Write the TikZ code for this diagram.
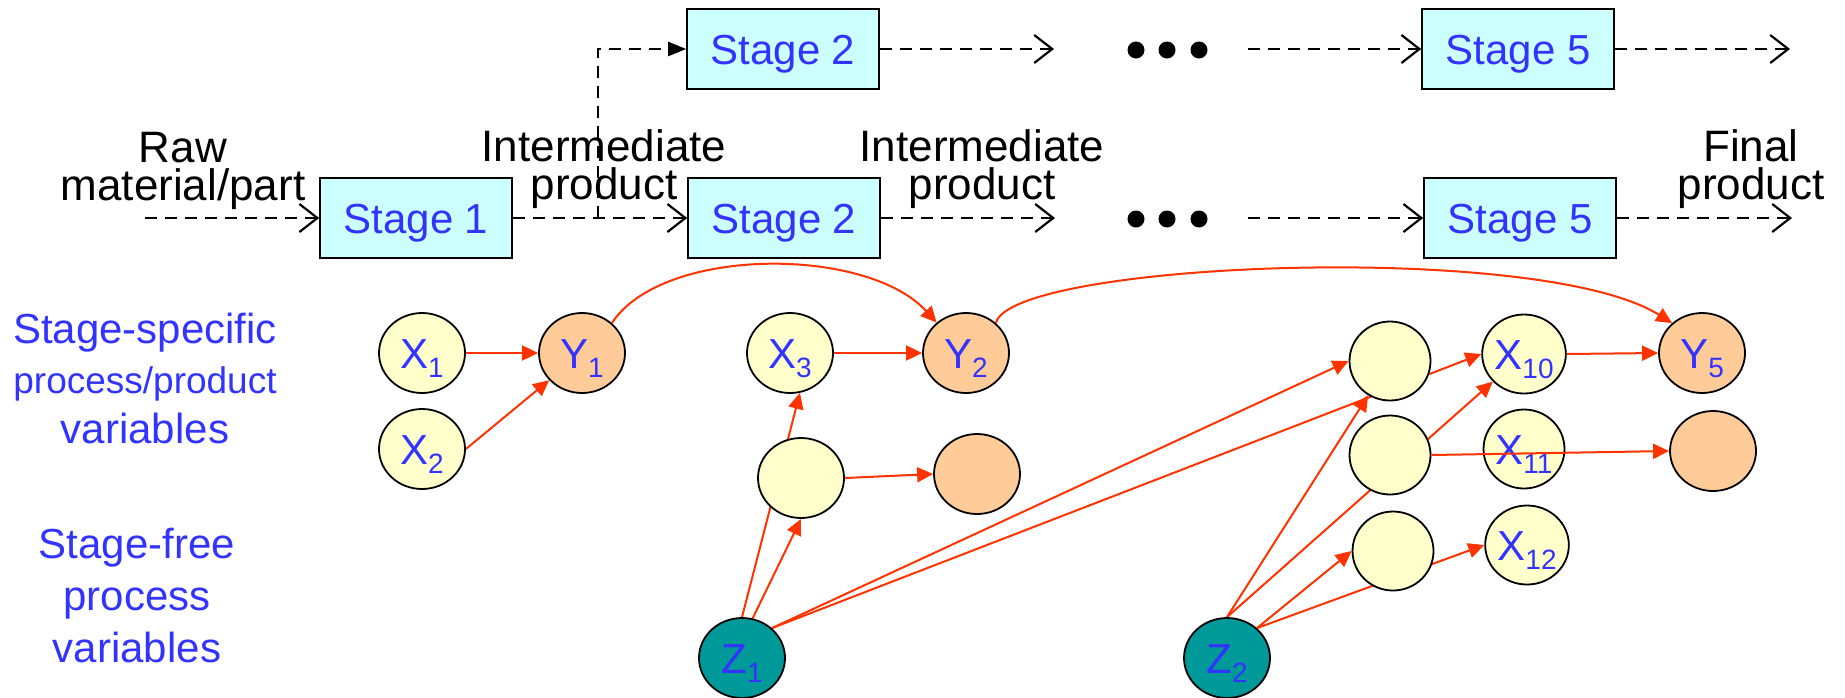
\documentclass[tikz,border=0pt]{standalone}
\usepackage{fontspec}
\setmainfont{Liberation Sans}
\usetikzlibrary{shapes.geometric,arrows.meta,backgrounds}

\definecolor{edgered}{RGB}{255,51,0}
\definecolor{labelblue}{RGB}{51,51,255}
\definecolor{boxcyan}{RGB}{204,255,255}
\definecolor{varyellow}{RGB}{255,255,204}
\definecolor{varorange}{RGB}{255,204,153}
\definecolor{varteal}{RGB}{0,153,153}

% lowered index after a variable letter
\newcommand{\vsub}[1]{\raisebox{-4.5pt}{\fontsize{14}{14}\selectfont #1}}

\begin{document}
\begin{tikzpicture}[x=0.5pt,y=0.5pt,
  stagebox/.style={draw=black,line width=0.8pt,fill=boxcyan,minimum width=96pt,
    minimum height=40pt,inner sep=0pt,text=labelblue,
    font=\fontsize{21}{25}\selectfont,text height=15.5pt,text depth=0pt},
  var/.style={ellipse,draw=black,line width=0.9pt,minimum width=43pt,
    minimum height=40pt,inner sep=0pt,text=labelblue,
    font=\fontsize{21}{25}\selectfont,text height=15pt,text depth=0pt},
  small/.style={minimum width=40.5pt,minimum height=39.5pt},
  xvar/.style={var,fill=varyellow},
  yvar/.style={var,fill=varorange},
  zvar/.style={var,fill=varteal},
  flowline/.style={draw=black,line width=1.1pt,dash pattern=on 6pt off 4pt},
  flow/.style={flowline,-{Straight Barb[length=9pt,width=14pt,line width=1.1pt]}},
  dep/.style={draw=edgered,line width=1pt,-{Triangle[length=8pt,width=7.5pt]}},
  caption/.style={font=\fontsize{22}{19}\selectfont,align=center,anchor=base,inner sep=0pt},
  side/.style={text=labelblue,align=center,inner sep=0pt,anchor=base}
]
\useasboundingbox (0,0) rectangle (1845,-697);

% ---------- production line ----------
\node[stagebox] (s1)  at (416,-218)  {Stage 1};
\node[stagebox] (s2a) at (783,-49)   {Stage 2};
\node[stagebox] (s2b) at (784,-218)  {Stage 2};
\node[stagebox] (s5a) at (1518,-49)  {Stage 5};
\node[stagebox] (s5b) at (1520,-218) {Stage 5};

\coordinate (rawin) at (145,-218);
\coordinate (br)    at (598,-218);
\coordinate (outA2) at (1054,-49);
\coordinate (outB2) at (1055,-218);
\coordinate (inA5)  at (1248,-49);
\coordinate (inB5)  at (1248,-218);
\coordinate (outA5) at (1790,-49);
\coordinate (outB5) at (1792,-218);

\foreach \yy in {-50,-219}
  \foreach \xx in {1136,1167,1199}
    \fill[black] (\xx,\yy) circle (8.5);

\draw[flow] (rawin) -- (s1.west);
\draw[flow] (s1.east) -- (s2b.west);
\draw[flowline,-{Triangle[length=9pt,width=7pt]}] (br) |- (s2a.west);
\draw[flow] (s2a.east) -- (outA2);
\draw[flow] (s2b.east) -- (outB2);
\draw[flow] (inA5) -- (s5a.west);
\draw[flow] (inB5) -- (s5b.west);
\draw[flow] (s5a.east) -- (outA5);
\draw[flow] (s5b.east) -- (outB5);

% two-line captions, placed by the baseline of their second line
\node[caption] (lraw)    at (183,-200)  {Raw\\material/part};
\node[caption] (linter)  at (604,-199)  {Intermediate\\product};
\node[caption] (linter2) at (982,-199)  {Intermediate\\product};
\node[caption] (lfinal)  at (1751,-199) {Final\\product};

% ---------- row labels (placed by their last line) ----------
\node[side,font=\fontsize{21}{25}\selectfont] (lspec) at (145,-443)
  {Stage-specific\\{\fontsize{18.5}{25}\selectfont process/product}\\variables};
\node[side,font=\fontsize{21}{26}\selectfont] (lfree) at (137,-662)
  {Stage-free\\process\\variables};

% ---------- variables ----------
\node[xvar] (X1) at (422,-353) {X\vsub{1}};
\node[xvar] (X2) at (422,-449) {X\vsub{2}};
\node[yvar] (Y1) at (582,-353) {Y\vsub{1}};
\node[xvar] (X3) at (790,-353) {X\vsub{3}};
\node[yvar] (Y2) at (966,-353) {Y\vsub{2}};
\node[xvar] (M1) at (801,-478) {};
\node[yvar] (O1) at (977,-474) {};
\node[zvar] (Z1) at (742,-658) {Z\vsub{1}};
\node[zvar] (Z2) at (1227,-658) {Z\vsub{2}};
\node[xvar,small] (A1) at (1390,-361) {};
\node[xvar,small] (A2) at (1390,-455) {};
\node[xvar,small] (A3) at (1393,-551) {};
\node[xvar,small] (X10) at (1524,-354) {X\vsub{10}};
\node[xvar,small] (X11) at (1524,-449) {X\vsub{11}};
\node[xvar,small] (X12) at (1527,-545) {X\vsub{12}};
\node[yvar] (Y5) at (1702,-353) {Y\vsub{5}};
\node[yvar] (O2) at (1713,-451) {};

% ---------- dependencies ----------
\begin{scope}[on background layer]
  \draw[dep] (X1.east) -- (Y1.west);
  \draw[dep] (X2.east) -- (Y1);
  \draw[dep] (X3.east) -- (Y2.west);
  \draw[dep] (Z1.north) -- (X3.-76);
  \draw[dep] (Z1.75) -- (M1.south);
  \draw[dep] (M1.east) -- (O1.west);
  \draw[dep] (Z1.45) -- (A1.west);
  \draw[dep] (Z1.45) -- (X10.west);
  \draw[dep] (Z2.north) -- (A1);
  \draw[dep] (Z2.north) -- (X10);
  \draw[dep] (Z2.45) -- (A3.west);
  \draw[dep] (Z2.45) -- (X12.west);
  \draw[dep] (X10.east) -- (Y5.west);
  \draw[dep] (Y1.45) .. controls (662,-246) and (867,-246) .. (Y2.134);
  \draw[dep] (Y2.45) .. controls (1010,-262) and (1540,-240) .. (Y5.135);
\end{scope}
\draw[dep] (A2.east) -- (O2.west);

\end{tikzpicture}
\end{document}
